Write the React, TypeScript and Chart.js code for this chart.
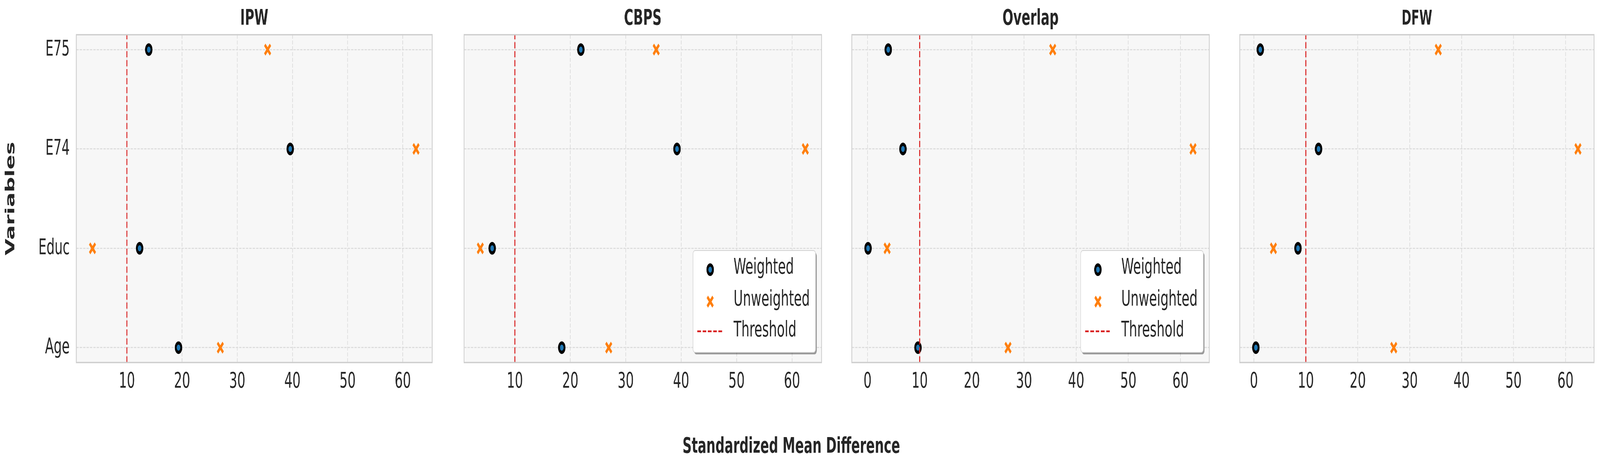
import React, { useEffect, useRef, useState } from 'react';
import { Chart, registerables } from 'chart.js';

Chart.register(...registerables);

// ---------------- data ----------------
const categories = ['Age', 'Educ', 'E74', 'E75'];
const methods = ['IPW', 'CBPS', 'Overlap', 'DFW'];
const unweighted = [26.93, 3.76, 62.4, 35.5];
const ipwWeighted = [19.35, 12.3, 39.6, 13.96];
const cbpsWeighted = [18.46, 5.9, 39.25, 21.9];
const overlapWeighted = [9.67, 0.1, 6.79, 3.97];
const dfwWeighted = [0.38, 8.49, 12.45, 1.23];
const threshold = 10;
const xTickValues = [0, 10, 20, 30, 40, 50, 60];
const legendLabels = ['Weighted', 'Unweighted', 'Threshold'];
const xAxisLabel = 'Standardized Mean Difference';
const yAxisLabel = 'Variables';

const weightedSets = [ipwWeighted, cbpsWeighted, overlapWeighted, dfwWeighted];
const showLegend = [false, true, true, false];

// ---------------- layout / style ----------------
const W = 6982;
const H = 1189;
const PLOT_TOP = 89;
const PLOT_BOTTOM = 929;
const PANELS = [
  { canvasLeft: 0, canvasRight: 1955, plotLeft: 333, plotRight: 1886 },
  { canvasLeft: 1955, canvasRight: 3651, plotLeft: 2025, plotRight: 3585 },
  { canvasLeft: 3651, canvasRight: 5344, plotLeft: 3717, plotRight: 5277 },
  { canvasLeft: 5344, canvasRight: 6982, plotLeft: 5410, plotRight: 6970 },
];
const TITLE_SIZES = [55.6, 55.6, 55.6, 51];
const FONT_FAMILY = '"DejaVu Sans", "Liberation Sans", sans-serif';
const FS = 55.6;
const TEXT = '#262626';
const BLUE = '#1f77b4';
const ORANGE = '#ff7f0e';
const RED = '#d81e1e';
const GRID = '#dcdcdc';
const FRAME = '#cccccc';
const FACE = '#f7f7f7';
const W_RADIUS = 12;
const W_BORDER = 8.3;
const U_RADIUS = 17.5;
const U_BORDER = 8.5;
const T_WIDTH = 4.3;
const T_DASH = [16, 7];

function drawCircleMarker(ctx: CanvasRenderingContext2D, x: number, y: number) {
  ctx.save();
  ctx.beginPath();
  ctx.arc(x, y, W_RADIUS, 0, Math.PI * 2);
  ctx.fillStyle = BLUE;
  ctx.fill();
  ctx.lineWidth = W_BORDER;
  ctx.strokeStyle = '#000';
  ctx.stroke();
  ctx.restore();
}

function drawXMarker(ctx: CanvasRenderingContext2D, x: number, y: number) {
  const o = Math.cos(Math.PI / 4) * U_RADIUS;
  ctx.save();
  ctx.beginPath();
  ctx.moveTo(x - o, y - o);
  ctx.lineTo(x + o, y + o);
  ctx.moveTo(x + o, y - o);
  ctx.lineTo(x - o, y + o);
  ctx.lineWidth = U_BORDER;
  ctx.strokeStyle = ORANGE;
  ctx.stroke();
  ctx.restore();
}

function roundRect(ctx: CanvasRenderingContext2D, x: number, y: number, w: number, h: number, r: number) {
  ctx.beginPath();
  ctx.moveTo(x + r, y);
  ctx.lineTo(x + w - r, y);
  ctx.arcTo(x + w, y, x + w, y + r, r);
  ctx.lineTo(x + w, y + h - r);
  ctx.arcTo(x + w, y + h, x + w - r, y + h, r);
  ctx.lineTo(x + r, y + h);
  ctx.arcTo(x, y + h, x, y + h - r, r);
  ctx.lineTo(x, y + r);
  ctx.arcTo(x, y, x + r, y, r);
  ctx.closePath();
}

function makePanelPlugin(index: number) {
  return {
    id: 'panelDecor' + index,
    beforeDraw(chart: any) {
      const { ctx, chartArea: a } = chart;
      ctx.save();
      ctx.fillStyle = FACE;
      ctx.fillRect(a.left, a.top, a.right - a.left, a.bottom - a.top);
      ctx.restore();
    },
    afterDatasetsDraw(chart: any) {
      const { ctx, chartArea: a } = chart;
      ctx.save();
      ctx.lineWidth = 3.3;
      ctx.strokeStyle = FRAME;
      ctx.strokeRect(a.left, a.top, a.right - a.left, a.bottom - a.top);
      ctx.restore();
    },
    afterDraw(chart: any) {
      const { ctx, chartArea: a } = chart;
      ctx.save();
      ctx.font = `bold ${TITLE_SIZES[index]}px ${FONT_FAMILY}`;
      ctx.fillStyle = TEXT;
      ctx.textAlign = 'center';
      ctx.textBaseline = 'alphabetic';
      ctx.fillText(methods[index], (a.left + a.right) / 2, 63);
      ctx.restore();

      if (!showLegend[index]) return;
      const bw = 535;
      const bh = 261;
      const bx = a.right - 26 - bw;
      const by = a.bottom - 26 - bh;
      ctx.save();
      roundRect(ctx, bx + 5, by + 5, bw, bh, 9);
      ctx.fillStyle = 'rgba(0,0,0,0.38)';
      ctx.fill();
      roundRect(ctx, bx, by, bw, bh, 9);
      ctx.fillStyle = '#ffffff';
      ctx.fill();
      ctx.lineWidth = 2;
      ctx.strokeStyle = '#d0d0d0';
      ctx.stroke();
      ctx.restore();

      const markerRows = [49, 131, 207];
      const textRows = [45, 127, 206];
      drawCircleMarker(ctx, bx + 75, by + markerRows[0]);
      drawXMarker(ctx, bx + 75, by + markerRows[1]);
      ctx.save();
      ctx.beginPath();
      ctx.setLineDash(T_DASH);
      ctx.lineWidth = T_WIDTH;
      ctx.strokeStyle = RED;
      ctx.moveTo(bx + 19, by + markerRows[2]);
      ctx.lineTo(bx + 129, by + markerRows[2]);
      ctx.stroke();
      ctx.restore();

      ctx.save();
      ctx.font = `normal ${FS}px ${FONT_FAMILY}`;
      ctx.fillStyle = TEXT;
      ctx.textAlign = 'left';
      ctx.textBaseline = 'middle';
      legendLabels.forEach((lab, k) => ctx.fillText(lab, bx + 177, by + textRows[k]));
      ctx.restore();
    },
  };
}

function makeConfig(index: number): any {
  const weighted = weightedSets[index];
  const all = [...weighted, ...unweighted];
  const lo = Math.min(...all);
  const hi = Math.max(...all);
  const m = (hi - lo) * 0.05;
  const xmin = lo - m;
  const xmax = hi + m;
  const ymin = -0.05 * (categories.length - 1);
  const ymax = categories.length - 1 + 0.05 * (categories.length - 1);
  const p = PANELS[index];
  const font = { family: FONT_FAMILY, size: FS, weight: 'normal' };
  const xt = xTickValues.filter((v) => v >= xmin && v <= xmax);

  return {
    type: 'scatter',
    data: {
      datasets: [
        {
          label: legendLabels[0],
          data: weighted.map((v, k) => ({ x: v, y: k })),
          pointStyle: 'circle',
          pointRadius: W_RADIUS,
          pointHoverRadius: W_RADIUS,
          pointBorderWidth: W_BORDER,
          pointBackgroundColor: BLUE,
          pointBorderColor: '#000000',
          backgroundColor: BLUE,
          borderColor: '#000000',
          order: 1,
        },
        {
          label: legendLabels[1],
          data: unweighted.map((v, k) => ({ x: v, y: k })),
          pointStyle: 'crossRot',
          pointRadius: U_RADIUS,
          pointHoverRadius: U_RADIUS,
          pointBorderWidth: U_BORDER,
          pointBackgroundColor: ORANGE,
          pointBorderColor: ORANGE,
          backgroundColor: ORANGE,
          borderColor: ORANGE,
          order: 2,
        },
        {
          type: 'line',
          label: legendLabels[2],
          data: [
            { x: threshold, y: ymin },
            { x: threshold, y: ymax },
          ],
          borderColor: RED,
          borderWidth: T_WIDTH,
          borderDash: T_DASH,
          pointRadius: 0,
          pointHoverRadius: 0,
          fill: false,
          showLine: true,
          order: 0,
        },
      ],
    },
    options: {
      responsive: false,
      maintainAspectRatio: false,
      animation: false,
      devicePixelRatio: 1,
      events: [],
      layout: { padding: { left: 0, right: p.canvasRight - p.plotRight, top: PLOT_TOP, bottom: 0 } },
      plugins: {
        legend: { display: false },
        tooltip: { enabled: false },
        title: { display: false },
      },
      scales: {
        x: {
          type: 'linear',
          min: xmin,
          max: xmax,
          afterBuildTicks: (s: any) => {
            s.ticks = xt.map((v) => ({ value: v }));
          },
          afterFit: (s: any) => {
            s.height = H - PLOT_BOTTOM;
          },
          grid: { color: GRID, lineWidth: 2.8, drawTicks: false },
          border: { display: false, dash: [10.3, 4.5] },
          ticks: {
            padding: 16,
            font,
            color: TEXT,
            maxRotation: 0,
            autoSkip: false,
            callback: (v: any) => String(v),
          },
        },
        y: {
          type: 'linear',
          min: ymin,
          max: ymax,
          afterBuildTicks: (s: any) => {
            s.ticks = categories.map((_, k) => ({ value: k }));
          },
          afterFit: (s: any) => {
            s.width = p.plotLeft - p.canvasLeft;
          },
          grid: { color: GRID, lineWidth: 2.8, drawTicks: false },
          border: { display: false, dash: [10.3, 4.5] },
          ticks: {
            display: index === 0,
            padding: 29,
            font,
            color: TEXT,
            autoSkip: false,
            callback: (v: any) => categories[v] ?? '',
          },
          title: {
            display: index === 0,
            text: yAxisLabel,
            color: TEXT,
            font: { family: FONT_FAMILY, size: FS, weight: 'bold' },
            padding: { top: 14, bottom: 0 },
          },
        },
      },
    },
    plugins: [makePanelPlugin(index)],
  };
}

function Panel({ index }: { index: number }) {
  const ref = useRef<HTMLCanvasElement>(null);
  const p = PANELS[index];
  const w = p.canvasRight - p.canvasLeft;
  useEffect(() => {
    const cv = ref.current;
    if (!cv) return;
    cv.width = w;
    cv.height = H;
    cv.style.width = w + 'px';
    cv.style.height = H + 'px';
    const chart = new Chart(cv, makeConfig(index));
    return () => chart.destroy();
  }, [index]);
  return (
    <canvas
      ref={ref}
      width={w}
      height={H}
      style={{ position: 'absolute', left: p.canvasLeft, top: 0, width: w, height: H, display: 'block' }}
    />
  );
}

function viewScale() {
  const vw = window.innerWidth || document.documentElement.clientWidth || W;
  const vh = window.innerHeight || document.documentElement.clientHeight || H;
  return { sx: vw / W, sy: vh / H };
}

export default function App() {
  const [scale, setScale] = useState(() => viewScale());
  useEffect(() => {
    document.body.style.margin = '0';
    document.body.style.background = '#ffffff';
    document.body.style.overflow = 'hidden';
    const onResize = () => setScale(viewScale());
    onResize();
    window.addEventListener('resize', onResize);
    return () => window.removeEventListener('resize', onResize);
  }, []);
  return (
    <div
      style={{
        position: 'absolute',
        left: 0,
        top: 0,
        width: W * scale.sx,
        height: H * scale.sy,
        overflow: 'hidden',
        background: '#ffffff',
      }}
    >
      <div
        style={{
          position: 'absolute',
          left: 0,
          top: 0,
          width: W,
          height: H,
          transform: `scale(${scale.sx}, ${scale.sy})`,
          transformOrigin: '0 0',
        }}
      >
        {methods.map((_, i) => (
          <Panel key={i} index={i} />
        ))}
        <div
          style={{
            position: 'absolute',
            left: 3453,
            top: 1113,
            transform: 'translateX(-50%)',
            fontFamily: FONT_FAMILY,
            fontWeight: 'bold',
            fontSize: FS,
            lineHeight: '1',
            color: TEXT,
            whiteSpace: 'nowrap',
          }}
        >
          {xAxisLabel}
        </div>
      </div>
    </div>
  );
}
